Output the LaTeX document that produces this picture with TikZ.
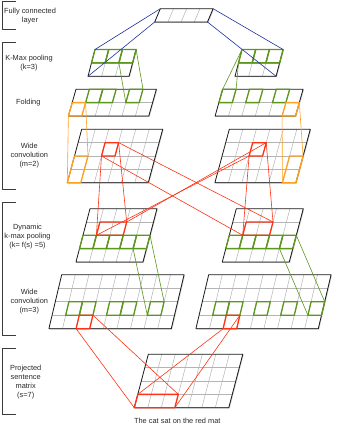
\documentclass[tikz,border=0pt]{standalone}
\usepackage{fontspec}
\setmainfont{Liberation Sans}
\usetikzlibrary{shadows}
\definecolor{cgreen}{RGB}{92,150,28}
\definecolor{corange}{RGB}{255,160,30}
\definecolor{cred}{RGB}{255,50,20}
\definecolor{cblue}{RGB}{30,50,160}
\definecolor{tgray}{RGB}{40,40,40}
\definecolor{ingray}{RGB}{180,180,180}
\definecolor{outgray}{RGB}{25,25,25}
\tikzset{
  gridin/.style={ingray, line width=0.5pt},
  gridout/.style={outgray, line width=0.8pt, line join=round},
  hgreen/.style={cgreen, line width=1.3pt, line join=round},
  horange/.style={corange, line width=1.3pt, line join=round},
  hred/.style={cred, line width=1.3pt, line join=round},
  lgreen/.style={cgreen, line width=0.6pt},
  lorange/.style={corange, line width=0.6pt},
  lred/.style={cred, line width=0.6pt},
  lblue/.style={cblue, line width=0.6pt},
  brk/.style={outgray!85, line width=0.8pt},
  lbl/.style={align=center, font=\fontsize{7.4}{9}\selectfont, text=tgray, inner sep=0pt},
}
% #1 name, #2 x0, #3 y0, #4 cols, #5 rows, #6 w, #7 h, #8 shift per row
\newcommand\mkgrid[8]{%
  \foreach \i in {0,...,#4}{\foreach \j in {0,...,#5}{%
    \coordinate (#1-\i-\j) at ({#2+\i*#6-\j*#8},{#3+\j*#7});}}
  \fill[white,drop shadow={shadow xshift=0.9pt,shadow yshift=-0.9pt,opacity=0.3}]
    (#1-0-0) -- (#1-#4-0) -- (#1-#4-#5) -- (#1-0-#5) -- cycle;
  \foreach \i in {1,...,#4}{\draw[gridin] (#1-\i-0) -- (#1-\i-#5);}
  \foreach \j in {1,...,#5}{\draw[gridin] (#1-0-\j) -- (#1-#4-\j);}
  \draw[gridout] (#1-0-0) -- (#1-#4-0) -- (#1-#4-#5) -- (#1-0-#5) -- cycle;
}
% #1 style, #2 grid, #3 col, #4 row, #5 colspan, #6 rowspan
\newcommand\mkcell[6]{%
  \pgfmathtruncatemacro\mycellC{#3+#5}%
  \pgfmathtruncatemacro\mycellR{#4+#6}%
  \draw[#1] (#2-#3-#4) -- (#2-\mycellC-#4) -- (#2-\mycellC-\mycellR) -- (#2-#3-\mycellR) -- cycle;}
\begin{document}
\begin{tikzpicture}[x=1pt,y=-1pt]
\useasboundingbox (0,0) rectangle (339,428);
% brackets
\draw[brk] (16,1.7) -- (2.7,1.7) -- (2.7,29) -- (16,29);
\draw[brk] (16,42.7) -- (2.7,42.7) -- (2.7,189.3) -- (16,189.3);
\draw[brk] (16,202.3) -- (2.7,202.3) -- (2.7,335) -- (16,335);
\draw[brk] (16,348.3) -- (2.7,348.3) -- (2.7,414.3) -- (16,414.3);
% labels
\node[lbl] (tfc) at (30,16.5) {Fully connected\\layer};
\node[lbl] (tkm) at (29,63.3) {K-Max pooling\\(k=3)};
\node[lbl] (tfo) at (28.3,102.7) {Folding};
\node[lbl] (twa) at (29.3,156) {Wide\\convolution\\(m=2)};
\node[lbl] (tdk) at (27.5,236.5) {Dynamic\\k-max pooling\\(k= f(s) =5)};
\node[lbl] (twb) at (29.3,302) {Wide\\convolution\\(m=3)};
\node[lbl] (tps) at (25.7,382.3) {Projected\\sentence\\matrix\\(s=7)};
\node[lbl] (cap) at (177.3,421) {The cat sat on the red mat};
% grids
\mkgrid{FC}{160.3}{8.7}{4}{1}{13.2}{13.3}{5.6}
\mkgrid{KML}{95}{49.5}{3}{2}{13.7}{13.4}{3.5}
\mkgrid{KMR}{242}{49.5}{3}{2}{13.7}{13.4}{3.5}
\mkgrid{FOL}{76}{89.2}{6}{2}{13.4}{13.4}{3.8}
\mkgrid{FOR}{222.7}{89.2}{6}{2}{13.4}{13.4}{3.8}
\mkgrid{WAL}{81.7}{129.3}{6}{4}{13.5}{13.35}{3.6}
\mkgrid{WAR}{229.3}{129.3}{6}{4}{13.5}{13.35}{3.6}
\mkgrid{DKL}{90}{208.7}{5}{4}{13.4}{13.3}{3.5}
\mkgrid{DKR}{236.3}{208.7}{5}{4}{13.4}{13.3}{3.5}
\mkgrid{WBL}{61.7}{274.7}{9}{4}{13.6}{13.5}{3.2}
\mkgrid{WBR}{208.7}{274.7}{9}{4}{13.6}{13.5}{3.2}
\mkgrid{PS}{148.3}{354.3}{7}{4}{13.5}{13.35}{3.5}
% highlighted cells
\foreach \c in {0,1,2}{\mkcell{hgreen}{KML}{\c}{0}{1}{1}\mkcell{hgreen}{KMR}{\c}{0}{1}{1}}
\foreach \c in {1,2,4}{\mkcell{hgreen}{FOL}{\c}{0}{1}{1}}
\foreach \c in {0,2,4}{\mkcell{hgreen}{FOR}{\c}{0}{1}{1}}
\mkcell{horange}{FOL}{0}{1}{1}{1}
\mkcell{horange}{FOR}{5}{1}{1}{1}
\mkcell{horange}{WAL}{0}{2}{1}{2}
\mkcell{horange}{WAR}{5}{2}{1}{2}
\mkcell{hred}{WAL}{2}{1}{1}{1}
\mkcell{hred}{WAR}{2}{1}{1}{1}
\foreach \c in {0,...,4}{\mkcell{hgreen}{DKL}{\c}{2}{1}{1}\mkcell{hgreen}{DKR}{\c}{2}{1}{1}}
\mkcell{hred}{DKL}{1}{1}{2}{1}
\mkcell{hred}{DKR}{1}{1}{2}{1}
\foreach \c in {1,2,4,5,7}{\mkcell{hgreen}{WBL}{\c}{2}{1}{1}}
\foreach \c in {1,2,4,6,8}{\mkcell{hgreen}{WBR}{\c}{2}{1}{1}}
\mkcell{hred}{WBL}{2}{3}{1}{1}
\mkcell{hred}{WBR}{2}{3}{1}{1}
\mkcell{hred}{PS}{0}{3}{3}{1}
% connectors: fully connected -> k-max pooling
\draw[lblue] (FC-0-0) -- (KML-0-0);
\draw[lblue] (FC-0-1) -- (KML-0-2);
\draw[lblue] (FC-4-0) -- (KMR-3-0);
\draw[lblue] (FC-4-1) -- (KMR-3-2);
% k-max pooling -> folding
\draw[lgreen] (KML-2-1) -- (FOL-4-1);
\draw[lgreen] (KML-3-0) -- (FOL-5-0);
\draw[lgreen] (KMR-0-0) -- (FOR-0-0);
\draw[lgreen] (KMR-0-1) -- (FOR-1-0);
% folding -> wide convolution (m=2)
\draw[lorange] (FOL-0-2) -- (WAL-0-4);
\draw[lorange] (FOL-1-1) -- (WAL-1-2);
\draw[lorange] (FOR-5-2) -- (WAR-5-4);
\draw[lorange] (FOR-6-1) -- (WAR-6-2);
% wide convolution (m=2) -> dynamic k-max pooling
\foreach \s in {WAL,WAR}{\foreach \t in {DKL,DKR}{%
  \draw[lred] (\s-2-2) -- (\t-1-2);
  \draw[lred] (\s-3-1) -- (\t-3-1);}}
% dynamic k-max pooling -> wide convolution (m=3)
\draw[lgreen] (DKL-4-3) -- (WBL-7-3);
\draw[lgreen] (DKL-5-2) -- (WBL-8-2);
\draw[lgreen] (DKR-4-3) -- (WBR-8-3);
\draw[lgreen] (DKR-5-2) -- (WBR-9-2);
% wide convolution (m=3) -> projected sentence matrix
\draw[lred] (WBL-2-4) -- (PS-0-4);
\draw[lred] (WBL-3-3) -- (PS-3-3);
\draw[lred] (WBR-2-4) -- (PS-0-3);
\draw[lred] (WBR-3-3) -- (PS-3-4);
\end{tikzpicture}
\end{document}
